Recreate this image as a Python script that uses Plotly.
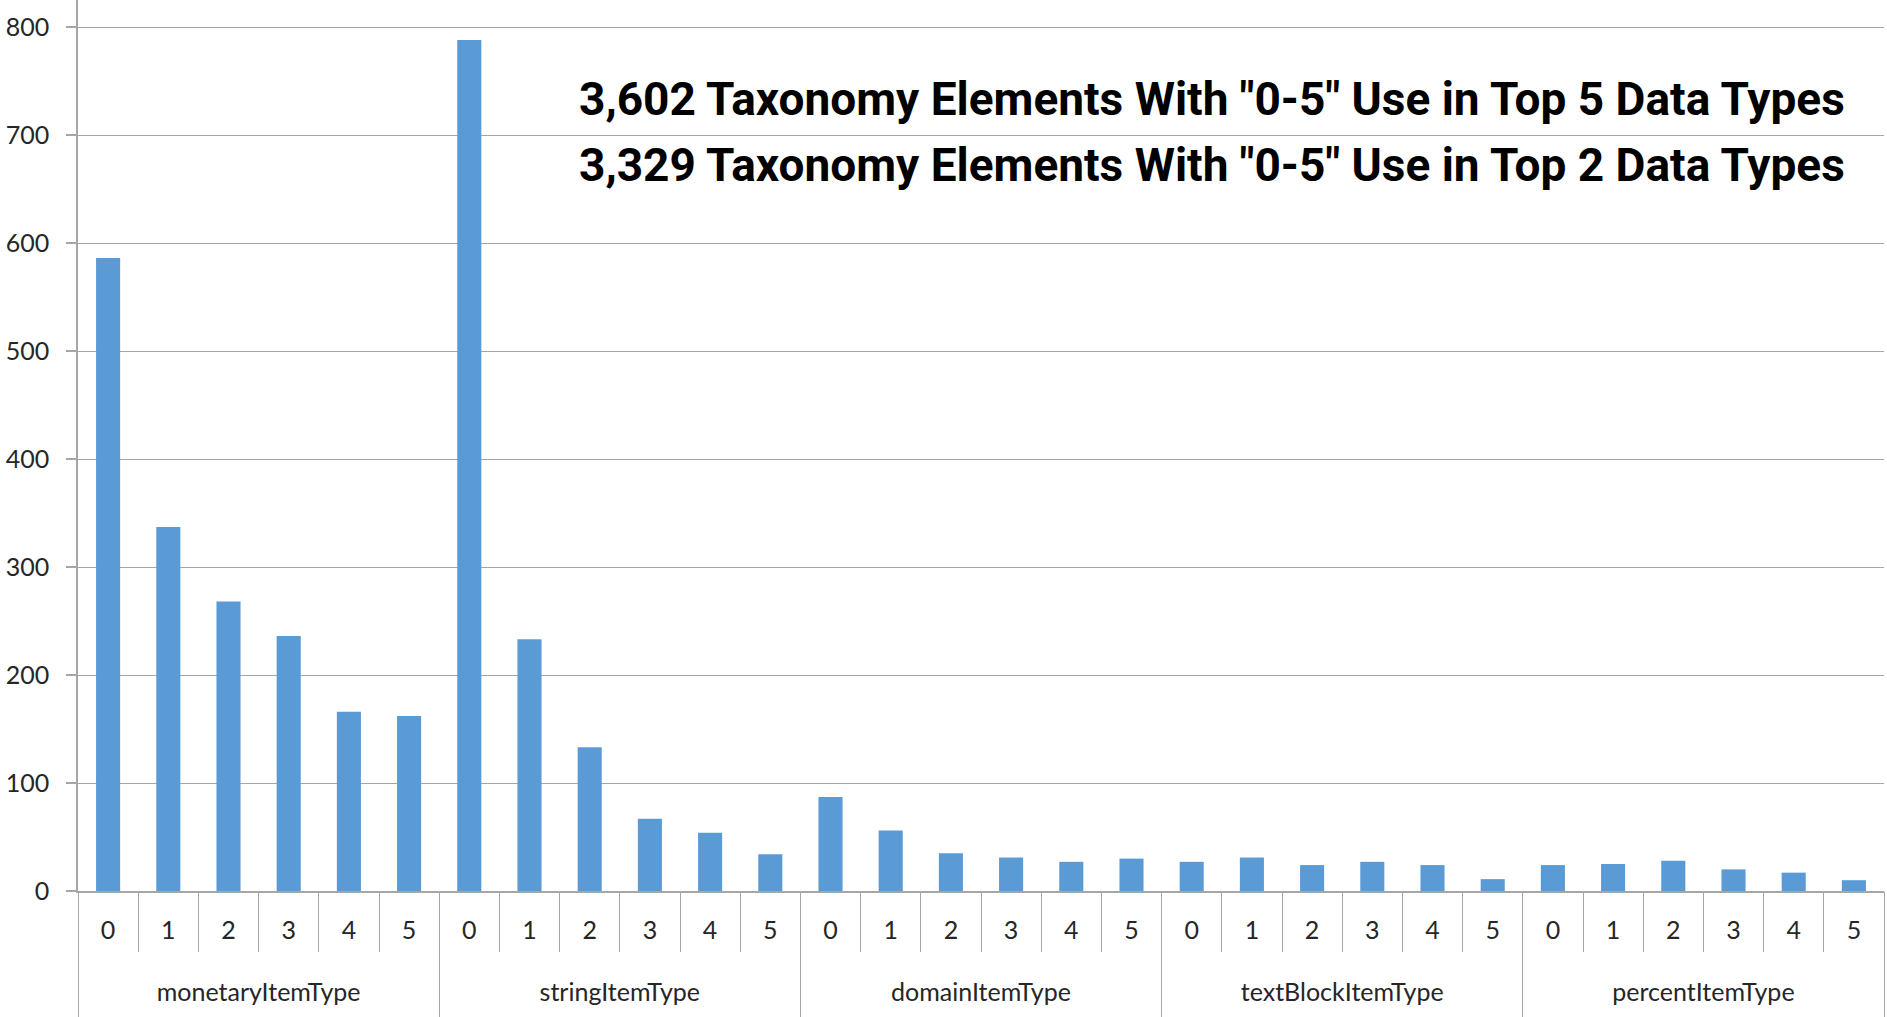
import plotly.graph_objects as go

groups = ["monetaryItemType", "stringItemType", "domainItemType", "textBlockItemType", "percentItemType"]
uses = ["0", "1", "2", "3", "4", "5"]
monetary = [586, 337, 268, 236, 166, 162]
string = [788, 233, 133, 67, 54, 34]
domain = [87, 56, 35, 31, 27, 30]
textblock = [27, 31, 24, 27, 24, 11]
percent = [24, 25, 28, 20, 17, 10]
title_lines = ['3,602 Taxonomy Elements With "0-5" Use in Top 5 Data Types',
               '3,329 Taxonomy Elements With "0-5" Use in Top 2 Data Types']

series = [monetary, string, domain, textblock, percent]
cats, labels, yv = [], [], []
for g, vals in zip(groups, series):
    for u, v in zip(uses, vals):
        cats.append(f"{g}|{u}")
        labels.append(u)
        yv.append(v)

n = len(cats)
per = len(uses)
group_centers = [gi * per + (per - 1) / 2 for gi in range(len(groups))]
group_bounds = [gi * per - 0.5 for gi in range(len(groups) + 1)]

GREY = "#A6A6A6"
fig = go.Figure()
fig.add_trace(go.Bar(x=cats, y=yv, marker=dict(color="#5B9BD5", line=dict(width=0)),
                     xaxis="x", yaxis="y"))
fig.add_trace(go.Scatter(x=group_centers, y=[0] * len(groups), mode="markers",
                         marker=dict(opacity=0), hoverinfo="skip", xaxis="x2", yaxis="y"))

W, H = 1887, 1017
fig.update_layout(
    width=W, height=H,
    margin=dict(l=78, r=3, t=0, b=126),
    paper_bgcolor="white", plot_bgcolor="white",
    bargap=0.6, showlegend=False,
    font=dict(family="Lato, Open Sans, sans-serif", size=25, color="#262626"),
    yaxis=dict(
        range=[0, 825], dtick=100, showgrid=True, gridcolor=GREY, gridwidth=1.2,
        showline=True, linecolor=GREY, linewidth=1.5, zeroline=False,
        ticks="outside", ticklen=10, tickcolor=GREY, tickwidth=1.5,
        ticklabelstandoff=12, tickfont=dict(size=25),
    ),
    xaxis=dict(
        type="category", range=[-0.5, n - 0.5], tickmode="array", tickvals=cats, ticktext=labels,
        showline=True, linecolor=GREY, linewidth=1.5,
        ticks="outside", tickson="boundaries", ticklen=59, tickcolor=GREY, tickwidth=1.2,
        ticklabelstandoff=16, tickfont=dict(size=25), showgrid=False, zeroline=False,
    ),
    xaxis2=dict(
        overlaying="x", anchor="y", side="bottom", range=[-0.5, n - 0.5],
        tickmode="array", tickvals=group_centers, ticktext=groups, ticks="",
        ticklabelstandoff=84, tickfont=dict(size=25), showgrid=False, zeroline=False, showline=False,
        minor=dict(tickmode="array", tickvals=group_bounds, ticks="outside", ticklen=130,
                   tickcolor=GREY, tickwidth=1.2, showgrid=False),
    ),
)
for txt, yp in zip(title_lines, [0.889, 0.815]):
    fig.add_annotation(
        text=txt, xref="paper", yref="paper", x=0.9795, y=yp,
        xanchor="right", yanchor="middle", showarrow=False,
        font=dict(family="Roboto, sans-serif", size=46, color="black", weight="bold"),
    )

fig.write_html("out.html", config={"displayModeBar": False})
